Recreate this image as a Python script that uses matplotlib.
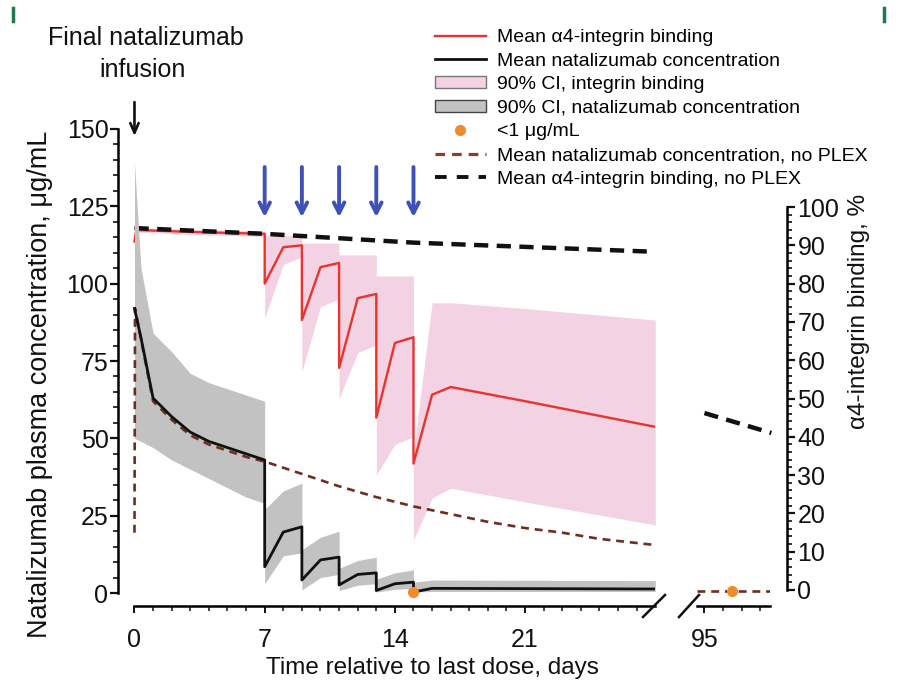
import matplotlib
matplotlib.use('Agg')
import matplotlib.pyplot as plt
from matplotlib.lines import Line2D
from matplotlib.patches import Patch
from matplotlib.ticker import FixedLocator

plt.rcParams['font.family'] = ['Liberation Sans', 'DejaVu Sans']

# ---------------- data ----------------
# Natalizumab plasma concentration (ug/mL), with PLEX
t_conc = [0, 0.35, 1, 2, 3, 4, 5, 6, 7, 7, 8, 9, 9, 10, 11, 11, 12, 13, 13, 14, 15, 15, 16, 28]
conc_mean = [92, 82.5, 63, 57, 52, 49, 47, 45, 43, 8.5, 19.7, 21.4, 4.2, 10.7, 11.6, 2.6, 6, 6.5,
             0.8, 3, 3.5, 0.3, 1.5, 1.3]
conc_hi = [139, 105, 84, 78, 71, 68, 66, 64, 62, 27, 33, 35.5, 14, 18, 20, 8, 10.5, 11.6,
           4.5, 6.5, 7.5, 3.5, 4.2, 4]
conc_lo = [50, 49, 47, 43, 40, 37, 34, 31, 29, 3, 12, 13, 1, 5, 6, 0.8, 2.5, 3,
           0.3, 1.2, 1.5, 0.3, 0.5, 0.5]

# Natalizumab concentration, no PLEX
t_noplex = [0, 0.03, 1, 2, 3, 4, 5, 6, 7, 9, 11, 13, 15, 17, 19, 21, 23, 25, 28]
conc_noplex = [19.5, 92, 62, 56, 51, 48, 46, 44, 42.5, 38.5, 34.5, 31, 28, 25.5, 23, 21, 19.5, 17.5, 15.5]
t_late = [94.6, 98.5]
conc_noplex_late = [0.5, 0.5]

# <1 ug/mL points
t_bloq = [15, 96.5]
conc_bloq = [0.3, 0.5]

# alpha4-integrin binding (%), with PLEX
t_bind = [0, 0.1, 3, 7, 7, 8, 9, 9, 10, 11, 11, 12, 13, 13, 14, 15, 15, 16, 17, 21, 28]
bind_mean = [91, 94, 93.5, 93, 80, 89.5, 90, 70.5, 84.3, 85.4, 58, 76.2, 77.3, 45, 64.5, 66,
             33, 51, 53, 49.3, 42.6]
bind_hi = [92, 94.6, 94.2, 93.7, 92.5, 92.5, 92.5, 90.6, 90.6, 90.6, 87.5, 87.5, 87.5, 82, 82, 82,
           36, 75, 75, 73.5, 70.5]
bind_lo = [90, 93.4, 92.8, 92.3, 71, 85, 87, 57, 74, 76, 50, 62, 64, 30, 38, 40,
           13, 24, 26.6, 23, 17]

# alpha4-integrin binding, no PLEX
t_bind_noplex = [0, 7, 15, 28]
bind_noplex = [94.5, 93, 90.7, 88.3]
t_bind_late = [95, 98.6]
bind_noplex_late = [46.2, 41]

plex_days = [7, 9, 11, 13, 15]

x_major = [0, 7, 14, 21]
x_major_late = [95]
y_left_ticks = [0, 25, 50, 75, 100, 125, 150]
y_right_ticks = list(range(0, 101, 10))

# ---------------- styles ----------------
RED = '#e8342c'
BLACK = '#111111'
PINK = '#f3d2e3'
GRAY = '#c2c2c2'
ORANGE = '#f08a2c'
BROWN = '#6e2e22'
BLUE = '#3d52b8'
FS_TICK = 18
FS_LAB = 17.5

W, H = 899, 691
fig = plt.figure(figsize=(W / 100, H / 100), dpi=100)

def fx(px):
    return px / W

def fy(py):
    return 1 - py / H

y_bot_px, y_top_px = 599.19, 129.0
ax1 = fig.add_axes([fx(128.9), fy(y_bot_px), (655.3 - 128.9) / W, (y_bot_px - y_top_px) / H])
ax2 = fig.add_axes([fx(697.0), fy(y_bot_px), (769.5 - 697.0) / W, (y_bot_px - y_top_px) / H])
ax1r = ax1.twinx()
ax2r = ax2.twinx()

ax1.set_xlim(-0.3, 28)
ax2.set_xlim(94.6, 98.5)
for a in (ax1, ax2):
    a.set_ylim(-2, 150)
for a in (ax1r, ax2r):
    a.set_ylim(-2.4, 120.37)

ax1.set_zorder(ax1r.get_zorder() + 1)
ax1.patch.set_visible(False)

# --- binding (right axis) ---
ax1r.fill_between(t_bind, bind_lo, bind_hi, color=PINK, lw=0, zorder=1)
ax1r.plot(t_bind, bind_mean, color=RED, lw=1.7, zorder=3)
ax1r.plot(t_bind_noplex, bind_noplex, color=BLACK, lw=3.2, linestyle=(0, (3.2, 1.9)), zorder=4)
ax2r.plot(t_bind_late, bind_noplex_late, color=BLACK, lw=3.2, linestyle=(0, (3.2, 1.9)), zorder=4,
          clip_on=False)

# --- concentration (left axis) ---
ax1.fill_between(t_conc, conc_lo, conc_hi, color=GRAY, lw=0, zorder=1)
ax1.plot(t_noplex, conc_noplex, color=BROWN, lw=1.9, linestyle=(0, (3, 2.2)), zorder=3)
ax1.plot(t_conc, conc_mean, color=BLACK, lw=2.0, zorder=4)
ax1.plot(t_bloq[:1], conc_bloq[:1], 'o', color=ORANGE, ms=7, zorder=5, clip_on=False)
ax2.plot(t_late, conc_noplex_late, color=BROWN, lw=1.9, linestyle=(0, (3, 2.2)), zorder=3)
ax2.plot(t_bloq[1:], conc_bloq[1:], 'o', color=ORANGE, ms=7, zorder=5, clip_on=False)

# --- arrows ---
for d in plex_days:
    ax1.annotate('', xy=(d, 120.6), xytext=(d, 138.6), annotation_clip=False,
                 arrowprops=dict(arrowstyle='->,head_length=0.75,head_width=0.38', color=BLUE, lw=2.8))
ax1.annotate('', xy=(0, 146.8), xytext=(0, 159.6), annotation_clip=False,
             arrowprops=dict(arrowstyle='->,head_length=0.7,head_width=0.3', color=BLACK, lw=1.9))

# --- spines & ticks ---
for a in (ax1, ax2, ax1r, ax2r):
    for s in a.spines.values():
        s.set_visible(False)
    a.tick_params(which='both', colors=BLACK, labelsize=FS_TICK)

ax1.spines['left'].set_visible(True)
ax1.spines['left'].set_position(('outward', 8.2))
ax1.spines['left'].set_bounds(0, 150)
ax1.spines['left'].set_linewidth(1.8)
ax1.yaxis.set_major_locator(FixedLocator(y_left_ticks))
ax1.yaxis.set_minor_locator(FixedLocator([v for v in range(0, 151, 5) if v % 25]))
ax1.tick_params(axis='y', which='major', length=6, width=1.6, pad=0.5)
ax1.tick_params(axis='y', which='minor', length=3.5, width=1.2)

for a, bnd in ((ax1, (0, 28)), (ax2, (94.6, 98.5))):
    a.spines['bottom'].set_visible(True)
    a.spines['bottom'].set_position(('outward', 4.9))
    a.spines['bottom'].set_bounds(*bnd)
    a.spines['bottom'].set_linewidth(1.8)
    a.tick_params(axis='x', which='major', length=5, width=1.4, pad=11)
    a.tick_params(axis='x', which='minor', length=3.5, width=1.1)

ax1.xaxis.set_major_locator(FixedLocator(x_major))
ax1.xaxis.set_minor_locator(FixedLocator([v for v in range(1, 29) if v % 7]))
ax2.xaxis.set_major_locator(FixedLocator(x_major_late))
ax2.xaxis.set_minor_locator(FixedLocator([96, 97, 98]))
ax2.tick_params(axis='y', left=False, labelleft=False)
ax1r.tick_params(axis='y', right=False, labelright=False)

ax2r.spines['right'].set_visible(True)
ax2r.spines['right'].set_position(('outward', 12.6))
ax2r.spines['right'].set_bounds(0, 100)
ax2r.spines['right'].set_linewidth(1.8)
ax2r.yaxis.set_major_locator(FixedLocator(y_right_ticks))
ax2r.yaxis.set_minor_locator(FixedLocator([v for v in range(0, 101, 2) if v % 10]))
ax2r.tick_params(axis='y', which='major', length=6, width=1.6, pad=1.5)
ax2r.tick_params(axis='y', which='minor', length=3.5, width=1.2)

# --- axis break marks ---
for (x0, y0, x1, y1) in ((643, 617, 665, 595), (679, 617, 699, 595)):
    fig.add_artist(Line2D([fx(x0), fx(x1)], [fy(y0), fy(y1)], transform=fig.transFigure,
                          color=BLACK, lw=1.8))

# --- labels ---
fig.text(fx(40), fy(384), 'Natalizumab plasma concentration, \u03bcg/mL', rotation=90,
         ha='center', va='center', fontsize=19.5, color=BLACK)
fig.text(fx(859), fy(311), '\u03b14-integrin binding, %', rotation=90,
         ha='center', va='center', fontsize=FS_LAB, color=BLACK)
fig.text(fx(432), fy(668), 'Time relative to last dose, days',
         ha='center', va='center', fontsize=FS_LAB, color=BLACK)
fig.text(fx(146), fy(38), 'Final natalizumab', ha='center', va='center', fontsize=18, color=BLACK)
fig.text(fx(143), fy(70), 'infusion', ha='center', va='center', fontsize=18, color=BLACK)

# --- legend ---
handles = [
    Line2D([], [], color=RED, lw=1.7),
    Line2D([], [], color=BLACK, lw=2.0),
    Patch(facecolor=PINK, edgecolor='#777777', lw=1.0),
    Patch(facecolor=GRAY, edgecolor='#444444', lw=1.0),
    Line2D([], [], color=ORANGE, marker='o', ms=7, lw=0),
    Line2D([], [], color='#8a3d2a', lw=2.3, linestyle=(0, (3, 2.2))),
    Line2D([], [], color=BLACK, lw=2.8, linestyle=(0, (3.0, 2.6))),
]
labels = [
    'Mean \u03b14-integrin binding',
    'Mean natalizumab concentration',
    '90% CI, integrin binding',
    '90% CI, natalizumab concentration',
    '<1 \u03bcg/mL',
    'Mean natalizumab concentration, no PLEX',
    'Mean \u03b14-integrin binding, no PLEX',
]
fig.legend(handles, labels, loc='upper left', bbox_to_anchor=(fx(435), fy(29)), frameon=False,
           fontsize=14, handlelength=2.6, handleheight=0.55, handletextpad=0.6,
           labelspacing=0.34, borderpad=0, borderaxespad=0)

# --- decorative corner marks ---
for xp in (13, 884):
    fig.add_artist(Line2D([fx(xp), fx(xp)], [fy(8), fy(21)], transform=fig.transFigure,
                          color='#1b7a4e', lw=2.5))

fig.savefig('out.png', dpi=100)
